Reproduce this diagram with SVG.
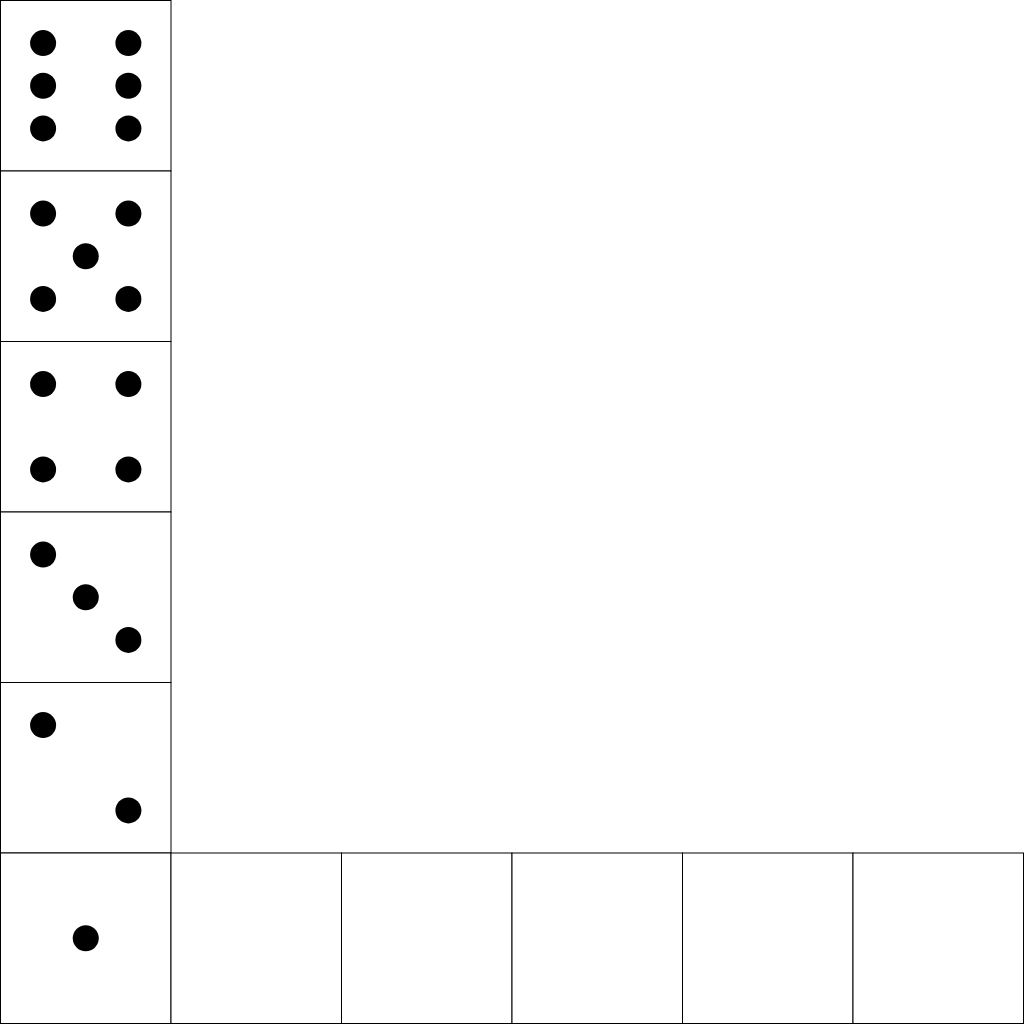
<svg xmlns="http://www.w3.org/2000/svg" width="1025" height="1024" viewBox="0 0 1025 1024">
<style>
.cell{fill:#fff;stroke:#000;stroke-width:1}
.pip{fill:#000}
</style>
<defs>
<circle id="p" r="13" class="pip"/>
</defs>
<rect x="0" y="0" width="1025" height="1024" fill="#fff"/>
<g id="die6" transform="translate(0.5,0.5)">
<rect class="cell" width="170.5" height="170.5"/>
<use href="#p" x="42.6" y="42.6"/><use href="#p" x="127.9" y="42.6"/>
<use href="#p" x="42.6" y="85.25"/><use href="#p" x="127.9" y="85.25"/>
<use href="#p" x="42.6" y="127.9"/><use href="#p" x="127.9" y="127.9"/>
</g>
<g id="die5" transform="translate(0.5,171)">
<rect class="cell" width="170.5" height="170.5"/>
<use href="#p" x="42.6" y="42.6"/><use href="#p" x="127.9" y="42.6"/>
<use href="#p" x="85.25" y="85.25"/>
<use href="#p" x="42.6" y="127.9"/><use href="#p" x="127.9" y="127.9"/>
</g>
<g id="die4" transform="translate(0.5,341.5)">
<rect class="cell" width="170.5" height="170.5"/>
<use href="#p" x="42.6" y="42.6"/><use href="#p" x="127.9" y="42.6"/>
<use href="#p" x="42.6" y="127.9"/><use href="#p" x="127.9" y="127.9"/>
</g>
<g id="die3" transform="translate(0.5,512)">
<rect class="cell" width="170.5" height="170.5"/>
<use href="#p" x="42.6" y="42.6"/>
<use href="#p" x="85.25" y="85.25"/>
<use href="#p" x="127.9" y="127.9"/>
</g>
<g id="die2" transform="translate(0.5,682.5)">
<rect class="cell" width="170.5" height="170.5"/>
<use href="#p" x="42.6" y="42.6"/>
<use href="#p" x="127.9" y="127.9"/>
</g>
<g id="die1" transform="translate(0.5,853)">
<rect class="cell" width="170.5" height="170.5"/>
<use href="#p" x="85.25" y="85.25"/>
</g>
<g id="blank1" transform="translate(171,853)"><rect class="cell" width="170.5" height="170.5"/></g>
<g id="blank2" transform="translate(341.5,853)"><rect class="cell" width="170.5" height="170.5"/></g>
<g id="blank3" transform="translate(512,853)"><rect class="cell" width="170.5" height="170.5"/></g>
<g id="blank4" transform="translate(682.5,853)"><rect class="cell" width="170.5" height="170.5"/></g>
<g id="blank5" transform="translate(853,853)"><rect class="cell" width="170.5" height="170.5"/></g>
<g id="connectors"></g>
</svg>
